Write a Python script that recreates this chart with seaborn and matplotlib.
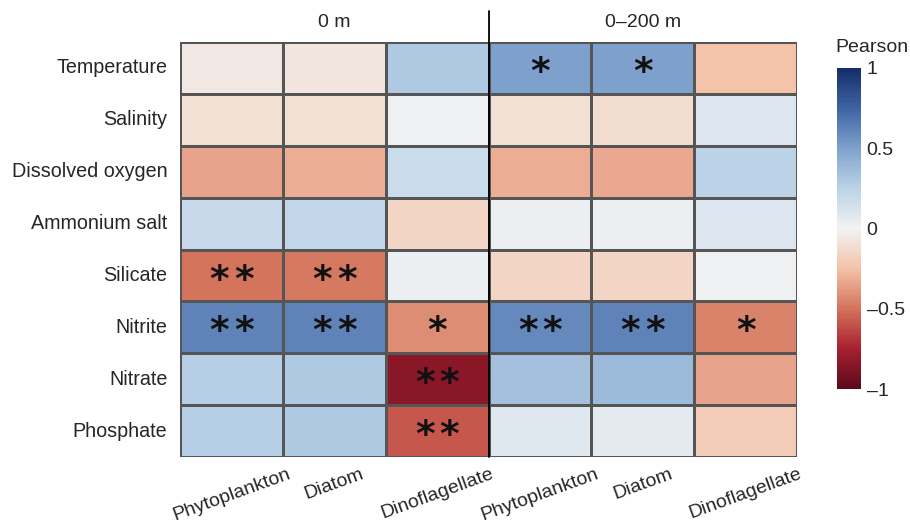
import numpy as np
import pandas as pd
import matplotlib
matplotlib.use("Agg")
import matplotlib.pyplot as plt
from matplotlib.colors import LinearSegmentedColormap
import seaborn as sns

sns.set_theme(style="white")
plt.rcParams["font.family"] = ["Liberation Sans", "DejaVu Sans"]

factors = ["Temperature", "Salinity", "Dissolved oxygen", "Ammonium salt",
           "Silicate", "Nitrite", "Nitrate", "Phosphate"]
groups = ["Phytoplankton", "Diatom", "Dinoflagellate",
          "Phytoplankton", "Diatom", "Dinoflagellate"]
depths = ["0 m", "0\u2013200 m"]

# Pearson correlation coefficients (columns: 0 m groups, then 0-200 m groups)
r_temperature = [-0.05, -0.07, 0.30, 0.50, 0.50, -0.25]
r_salinity = [-0.10, -0.10, 0.02, -0.10, -0.12, 0.10]
r_oxygen = [-0.35, -0.32, 0.18, -0.32, -0.33, 0.25]
r_ammonium = [0.20, 0.22, -0.15, 0.03, 0.03, 0.10]
r_silicate = [-0.50, -0.48, 0.03, -0.15, -0.15, 0.02]
r_nitrite = [0.62, 0.62, -0.42, 0.60, 0.62, -0.45]
r_nitrate = [0.27, 0.30, -0.85, 0.35, 0.38, -0.35]
r_phosphate = [0.27, 0.30, -0.58, 0.08, 0.07, -0.20]

# significance marks
sig_temperature = ["", "", "", "*", "*", ""]
sig_salinity = ["", "", "", "", "", ""]
sig_oxygen = ["", "", "", "", "", ""]
sig_ammonium = ["", "", "", "", "", ""]
sig_silicate = ["**", "**", "", "", "", ""]
sig_nitrite = ["**", "**", "*", "**", "**", "*"]
sig_nitrate = ["", "", "**", "", "", ""]
sig_phosphate = ["", "", "**", "", "", ""]

values = np.array([r_temperature, r_salinity, r_oxygen, r_ammonium,
                   r_silicate, r_nitrite, r_nitrate, r_phosphate])
marks = [sig_temperature, sig_salinity, sig_oxygen, sig_ammonium,
         sig_silicate, sig_nitrite, sig_nitrate, sig_phosphate]

df = pd.DataFrame(values, index=factors, columns=range(len(groups)))

# diverging red-white-blue palette
pearson_cmap = LinearSegmentedColormap.from_list("pearson", [
    (0.000, "#5c0a1c"),
    (0.125, "#a8202f"),
    (0.250, "#d4735c"),
    (0.375, "#f3c3a9"),
    (0.500, "#f2f2f2"),
    (0.625, "#bcd3e8"),
    (0.750, "#7fa3cd"),
    (0.875, "#3f63a3"),
    (1.000, "#152e6a"),
])

W, H = 910, 523
fig = plt.figure(figsize=(W / 100, H / 100), dpi=100)
ax = fig.add_axes([180 / W, 1 - 457 / H, 617 / W, 415 / H])
cax = fig.add_axes([837 / W, 1 - 389 / H, 24 / W, 321 / H])

sns.heatmap(df, ax=ax, cmap=pearson_cmap, vmin=-1, vmax=1, cbar_ax=cax,
            linewidths=0.8, linecolor="#555555", square=False)

# significance stars, spaced apart
for i, row in enumerate(marks):
    for j, m in enumerate(row):
        n = len(m)
        for s in range(n):
            dx = (s - (n - 1) / 2) * 0.24
            ax.text(j + 0.5 + dx, i + 0.5 + 0.1, "*", ha="center", va="center",
                    fontsize=27, fontweight="bold", color="#111111",
                    family="DejaVu Sans")

ax.set_xticks(np.arange(len(groups)) + 0.5)
ax.set_xticklabels(groups, rotation=20, ha="center", fontsize=14)
ax.set_yticks(np.arange(len(factors)) + 0.5)
ax.set_yticklabels(factors, rotation=0, fontsize=14.2)
ax.tick_params(axis="y", length=0, pad=9)
ax.tick_params(axis="x", length=0, pad=6)
ax.set_xlabel("")
ax.set_ylabel("")

# depth divider and headers
ax.plot([3, 3], [-0.6, len(factors)], color="black", lw=1.3, clip_on=False)
for k, d in enumerate(depths):
    ax.text(1.5 + 3 * k, -0.38, d, ha="center", va="center", fontsize=14)

cb = ax.collections[0].colorbar
cb.set_ticks([1, 0.5, 0, -0.5, -1])
cb.set_ticklabels(["1", "0.5", "0", "\u20130.5", "\u20131"])
cb.outline.set_visible(False)
cax.tick_params(length=0, labelsize=14, pad=4)
fig.text(872 / W, 1 - 48 / H, "Pearson", ha="center", va="center", fontsize=14)

fig.savefig("out.png", dpi=100)
